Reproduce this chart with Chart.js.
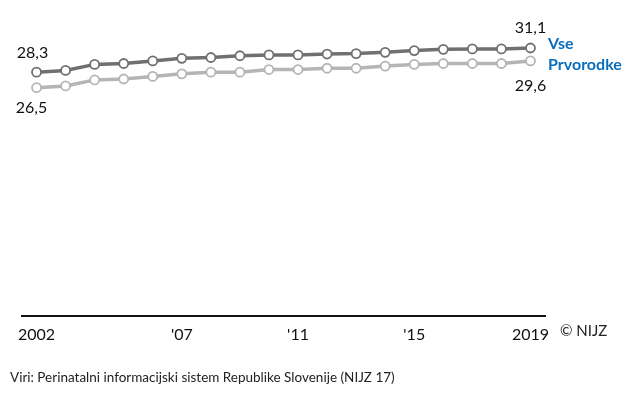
<!DOCTYPE html>
<html>
<head>
<meta charset="utf-8">
<script src="https://cdn.jsdelivr.net/npm/chart.js@4"></script>
<style>
  body { margin: 0; background: #fff; }
  #wrap { position: relative; width: 640px; height: 398px; font-family: Lato, sans-serif; }
  #copy { position: absolute; left: 560px; top: 321px; font-size: 15px; color: #222; }
  #src { position: absolute; left: 10px; top: 369px; font-size: 13.5px; color: #222; }
</style>
</head>
<body>
<div id="wrap">
  <canvas id="chart" width="640" height="398"></canvas>
  <div id="copy">© NIJZ</div>
  <div id="src">Viri: Perinatalni informacijski sistem Republike Slovenije (NIJZ 17)</div>
</div>
<script>
const years = [2002, 2003, 2004, 2005, 2006, 2007, 2008, 2009, 2010, 2011,
               2012, 2013, 2014, 2015, 2016, 2017, 2018, 2019];
const vse =       [28.3, 28.5, 29.2, 29.3, 29.6, 29.9, 30.0, 30.2, 30.3, 30.3,
                   30.4, 30.45, 30.6, 30.8, 30.95, 31.0, 31.0, 31.1];
const prvorodke = [26.5, 26.7, 27.4, 27.5, 27.8, 28.1, 28.3, 28.3, 28.6, 28.6,
                   28.75, 28.75, 29.0, 29.2, 29.3, 29.3, 29.3, 29.6];
const tickYears = { 2002: '2002', 2007: "'07", 2011: "'11", 2015: "'15", 2019: '2019' };
const seriesNames = ['Vse', 'Prvorodke'];

const fmt = v => v.toFixed(1).replace('.', ',');

// oznake vrednosti na začetku/koncu in imena serij
const labelPlugin = {
  id: 'labels',
  afterDatasetsDraw(chart) {
    const ctx = chart.ctx;
    const x = chart.scales.x, y = chart.scales.y;
    const last = years.length - 1;
    ctx.save();
    ctx.font = '16px Lato';
    ctx.fillStyle = '#111';
    ctx.textAlign = 'center';
    ctx.textBaseline = 'middle';
    ctx.fillText(fmt(vse[0]), x.getPixelForValue(0) - 4, y.getPixelForValue(vse[0]) - 19);
    ctx.fillText(fmt(prvorodke[0]), x.getPixelForValue(0) - 5, y.getPixelForValue(prvorodke[0]) + 20);
    ctx.fillText(fmt(vse[last]), x.getPixelForValue(last), y.getPixelForValue(vse[last]) - 20);
    ctx.fillText(fmt(prvorodke[last]), x.getPixelForValue(last), y.getPixelForValue(prvorodke[last]) + 25);

    ctx.font = 'bold 16px Lato';
    ctx.fillStyle = '#0a6ebd';
    ctx.textAlign = 'left';
    const lx = chart.chartArea.right + 3;
    ctx.fillText(seriesNames[0], lx, y.getPixelForValue(vse[last]) - 4);
    ctx.fillText(seriesNames[1], lx, y.getPixelForValue(prvorodke[last]) + 4);
    ctx.restore();
  }
};

new Chart(document.getElementById('chart'), {
  type: 'line',
  data: {
    labels: years,
    datasets: [
      { label: seriesNames[0], data: vse, borderColor: '#707070', pointBorderColor: '#707070' },
      { label: seriesNames[1], data: prvorodke, borderColor: '#b5b5b5', pointBorderColor: '#b5b5b5' }
    ]
  },
  options: {
    responsive: false,
    animation: false,
    layout: { padding: { left: 22, right: 95, top: 11, bottom: 45 } },
    elements: {
      line: { borderWidth: 3.5, tension: 0 },
      point: { radius: 4.5, borderWidth: 1.8, backgroundColor: '#fff' }
    },
    plugins: { legend: { display: false }, tooltip: { enabled: false } },
    scales: {
      x: {
        offset: true,
        grid: { display: false, drawTicks: false },
        border: { display: true, color: '#111', width: 2 },
        ticks: {
          autoSkip: false, maxRotation: 0, padding: 9,
          color: '#111', font: { family: 'Lato', size: 16 },
          callback: (v, i) => tickYears[years[i]] || ''
        }
      },
      y: { display: false, min: 0, max: 35.4 }
    }
  },
  plugins: [labelPlugin]
});
</script>
</body>
</html>
